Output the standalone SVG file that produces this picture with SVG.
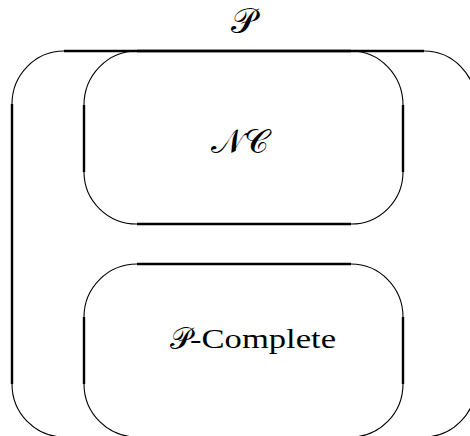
<svg xmlns="http://www.w3.org/2000/svg" width="470" height="436" viewBox="0 0 470 436">
<style>
.arc{fill:none;stroke:#000;stroke-width:1.1}
.ln{fill:none;stroke:#000;stroke-width:2.4}
.cal{font-family:"DejaVu Serif","Liberation Serif",serif;fill:#000}
.rm{font-family:"Liberation Serif",serif;fill:#000}
</style>
<rect width="470" height="436" fill="#fff"/>
<g id="P">
<path class="ln" d="M64 51H424M12 104V384M476 104V384"/>
<path class="arc" d="M64 51A52 53 0 0 0 12 104M424 51A52 53 0 0 1 476 104M12 384A52 53 0 0 0 64 437M476 384A52 53 0 0 1 424 437"/>
<text class="cal" x="243" y="33" font-size="35" text-anchor="middle">𝒫</text>
</g>
<g id="NC">
<path class="ln" d="M137 51H351M84 105V172M403 105V172M137 224H351"/>
<path class="arc" d="M137 51A53 54 0 0 0 84 105M351 51A52 54 0 0 1 403 105M84 172A53 52 0 0 0 137 224M403 172A52 52 0 0 1 351 224"/>
<text class="cal" x="240" y="153" font-size="34" text-anchor="middle">𝒩𝒞</text>
</g>
<g id="PComplete">
<path class="ln" d="M137 264H351M84 317V384M403 317V384"/>
<path class="arc" d="M137 264A53 53 0 0 0 84 317M351 264A52 53 0 0 1 403 317M84 384A53 53 0 0 0 137 437M403 384A52 53 0 0 1 351 437"/>
<text class="cal" x="170" y="349" font-size="30">𝒫</text>
<text class="rm" x="190" y="348" font-size="27" textLength="146" lengthAdjust="spacingAndGlyphs">-Complete</text>
</g>
<g id="connectors"/>
</svg>
